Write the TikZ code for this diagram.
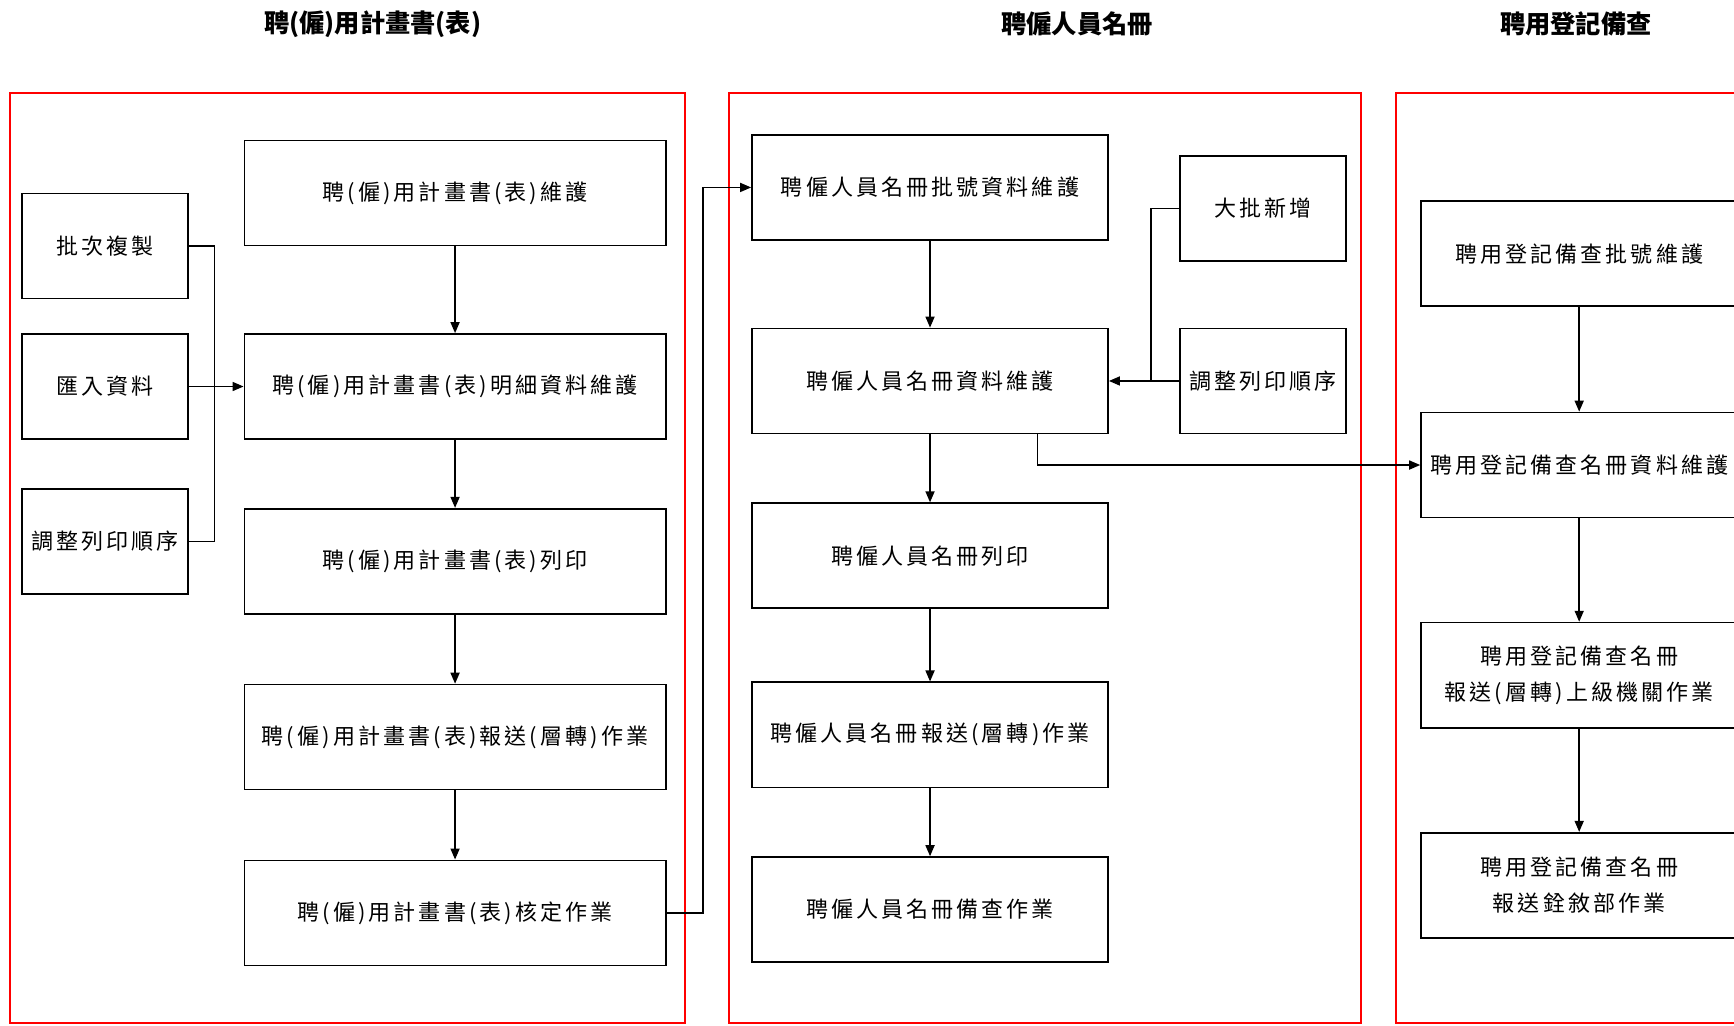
\documentclass[tikz,border=0pt]{standalone}
\usepackage{fontspec}
\setmainfont{Noto Sans CJK TC}
\newfontfamily\boxcjk{Noto Sans CJK TC}[LetterSpace=14]
\usetikzlibrary{arrows.meta,calc,positioning}

\def\pxu{0.3mm} % one unit of the picture

\tikzset{
  procbox/.style={draw, line width=1.3pt, inner sep=0pt, align=center,
    minimum width=#1*\pxu, minimum height=95*\pxu,
    font=\fontsize{17}{28}\boxcjk},
  lane/.style={draw=red, line width=1.5pt},
  lanetitle/.style={font=\fontsize{19.5}{22}\selectfont\bfseries},
  flow/.style={line width=1.1pt, -{Triangle[length=8.5pt,width=7pt]}},
  feed/.style={line width=1.1pt},
}

\begin{document}
\begin{tikzpicture}[x=\pxu, y=-\pxu]

  % Page frame
  \useasboundingbox (0,0) rectangle (1568,927);
  \clip (0,0) rectangle (1568,927);

  % Lanes (the last one runs off the page)
  \draw[lane] (9,84) rectangle (619,925);
  \draw[lane] (659,84) rectangle (1231,925);
  \draw[lane] (1262,84) rectangle (1600,925);

  % Lane titles
  \node[lanetitle] (t1) at (337,22) {聘(僱)用計畫書(表)};
  \node[lanetitle] (t2) at (974,22) {聘僱人員名冊};
  \node[lanetitle] (t3) at (1425,22) {聘用登記備查};

  % Plan lane
  \node[procbox=381] (a1) at (411.5,174.5) {聘(僱)用計畫書(表)維護};
  \node[procbox=381] (a2) at (411.5,349.5) {聘(僱)用計畫書(表)明細資料維護};
  \node[procbox=381] (a3) at (411.5,507.5) {聘(僱)用計畫書(表)列印};
  \node[procbox=381] (a4) at (411.5,666.5) {聘(僱)用計畫書(表)報送(層轉)作業};
  \node[procbox=381] (a5) at (411.5,825.5) {聘(僱)用計畫書(表)核定作業};

  \node[procbox=150] (l1) at (95,222.5) {批次複製};
  \node[procbox=150] (l2) at (95,349.5) {匯入資料};
  \node[procbox=150] (l3) at (95,489.5) {調整列印順序};

  % Roster lane
  \node[procbox=322] (b1) at (841,169.5) {聘僱人員名冊批號資料維護};
  \node[procbox=322] (b2) at (841,344.5) {聘僱人員名冊資料維護};
  \node[procbox=322] (b3) at (841,502.5) {聘僱人員名冊列印};
  \node[procbox=322] (b4) at (841,664.5) {聘僱人員名冊報送(層轉)作業};
  \node[procbox=322] (b5) at (841,822.5) {聘僱人員名冊備查作業};

  \node[procbox=150] (s1) at (1142,188.5) {大批新增};
  \node[procbox=150] (s2) at (1142,344.5) {調整列印順序};

  % Registration lane
  \node[procbox=286] (c1) at (1428,229.5) {聘用登記備查批號維護};
  \node[procbox=286] (c2) at (1428,420.5) {聘用登記備查名冊資料維護};
  \node[procbox=286] (c3) at (1428,610.5) {聘用登記備查名冊\\報送(層轉)上級機關作業};
  \node[procbox=286] (c4) at (1428,800.5) {聘用登記備查名冊\\報送銓敘部作業};

  % Downward flow in each lane
  \foreach \i/\j in {a1/a2,a2/a3,a3/a4,a4/a5,b1/b2,b2/b3,b3/b4,b4/b5,c1/c2,c2/c3,c3/c4}
    \draw[flow] (\i) -- (\j);

  % Side inputs, plan lane
  \coordinate (busa) at ($(l2.east)!0.47!(a2.west)$);
  \draw[feed] (l1.east) -| (busa);
  \draw[feed] (l3.east) -| (busa);
  \draw[flow] (l2) -- (a2);

  % Side inputs, roster lane
  \coordinate (busb) at ($(b2.east)!0.6!(s2.west)$);
  \draw[feed] (s1.west) -| (busb);
  \draw[flow] (s2) -- (b2);

  % Links between lanes
  \draw[flow] (a5.east) -- ++(33,0) |- (b1.west);
  \coordinate (b2tap) at ($(b2.south west)!0.8!(b2.south east)$);
  \draw[flow] (b2tap) |- (c2.west);

\end{tikzpicture}
\end{document}
